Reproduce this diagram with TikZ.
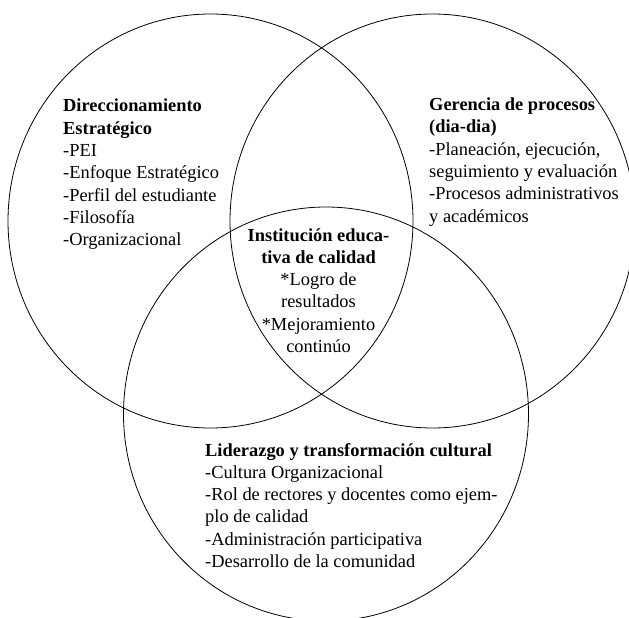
\documentclass[tikz,border=0pt]{standalone}
\usepackage{fontspec}
\setmainfont{Liberation Serif}
\begin{document}
\begin{tikzpicture}[x=1pt,y=-1pt,
  ring/.style={draw=black,line width=0.8pt},
  txt/.style={inner sep=0pt,font=\fontsize{18.4}{22.3}\selectfont}]
\useasboundingbox (0,0) rectangle (629,618);
\draw[ring] (210.5,221) ellipse [x radius=202.5pt, y radius=207pt];
\draw[ring] (432.5,221) ellipse [x radius=202.5pt, y radius=207pt];
\draw[ring] (326,414) ellipse [x radius=202.5pt, y radius=207pt];
% base anchor of a multi-line node lies on its last line
\node[txt,align=left,anchor=base west] (de) at (63,245.6)
 {\textbf{Direccionamiento}\\ \textbf{Estratégico}\\ -PEI\\ -Enfoque Estratégico\\ -Perfil del estudiante\\ -Filosofía\\ -Organizacional};
\node[txt,align=left,anchor=base west] (gp) at (429,222)
 {\textbf{Gerencia de procesos}\\ \textbf{(dia-dia)}\\ -Planeación, ejecución,\\ seguimiento y evaluación\\ -Procesos administrativos\\ y académicos};
\node[txt,align=center,anchor=base] (ie) at (318.5,352.5)
 {\textbf{Institución educa-}\\ \textbf{tiva de calidad}\\ *Logro de\\ resultados\\ *Mejoramiento\\ continúo};
\node[txt,align=left,anchor=base west] (lt) at (205,567.5)
 {\textbf{Liderazgo y transformación cultural}\\ -Cultura Organizacional\\ -Rol de rectores y docentes como ejem-\\ plo de calidad\\ -Administración participativa\\ -Desarrollo de la comunidad};
\end{tikzpicture}
\end{document}
